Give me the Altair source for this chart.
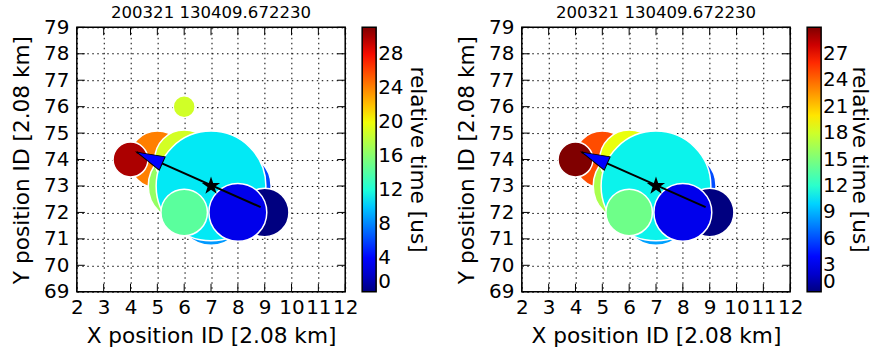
import math
import altair as alt
import pandas as pd

# ---------------- data ----------------
TITLE = "200321 130409.672230"
X_LABEL = "X position ID [2.08 km]"
Y_LABEL = "Y position ID [2.08 km]"
CBAR_LABEL = "relative time [us]"

X_TICKS = list(range(2, 13))
Y_TICKS = list(range(69, 80))

# left panel (drawing order = list order)
left_x = [7, 8, 5, 6, 6, 6, 4, 7, 9, 6, 8]
left_y = [72, 73, 74, 73, 74, 76, 74, 73, 72, 72, 72]
left_t = [8.6, 6.0, 24.2, 16.5, 18.9, 18.8, 30.0, 11.0, 0.0, 14.3, 2.9]
left_amp = [1089, 1110, 812, 1296, 870, 121, 306, 3025, 590, 543, 841]
left_tmax = 31.2
left_cticks = [0, 4, 8, 12, 16, 20, 24, 28]

# right panel
right_x = [7, 8, 5, 6, 6, 4, 7, 9, 6, 8]
right_y = [72, 73, 74, 73, 74, 74, 73, 72, 72, 72]
right_t = [8.5, 6.0, 24.9, 16.7, 19.0, 30.0, 10.9, 0.0, 14.5, 2.8]
right_amp = [1089, 1110, 812, 1296, 870, 306, 3025, 590, 543, 841]
right_tmax = 30.0
right_cticks = [0, 3, 6, 9, 12, 15, 18, 21, 24, 27]

# source location (star) and propagation arrow
star_x, star_y = 7.0, 73.0
arrow_from = (8.85, 72.2)
arrow_to = (4.23, 74.28)

# jet colormap anchors (fraction of range, colour)
JET_STOPS = [0, 0.11, 0.125, 0.34, 0.35, 0.375, 0.64, 0.65, 0.66, 0.89, 0.91, 1.0]
JET_COLORS = ["#000080", "#0000ff", "#0000ff", "#00dbff", "#00e6f7", "#15ffe2",
              "#efff08", "#f7f500", "#ffec00", "#ff1300", "#e80000", "#800000"]

# ---------------- layout / styles ----------------
W, H = 269, 265
GAP = 177          # from right edge of left plot to left edge of right plot
FONT = "DejaVu Sans"
TFS = 21.7         # axis / colorbar title font size
XDOM, YDOM = [2, 12], [69, 79]

# five-pointed star marker as an SVG path in the unit box
_pts = []
for k in range(10):
    r = 1.0 if k % 2 == 0 else 0.382
    a = math.radians(-90 + 36 * k)
    _pts.append(f"{r * math.cos(a):.4f},{r * math.sin(a):.4f}")
STAR_PATH = "M" + "L".join(_pts) + "Z"
HEAD_PATH = "M0,0L0.52,2L-0.52,2Z"


def xs(field):
    return alt.X(field, type="quantitative", title=X_LABEL,
                 scale=alt.Scale(domain=XDOM, nice=False, zero=False),
                 axis=alt.Axis(values=X_TICKS))


def ys(field):
    return alt.Y(field, type="quantitative", title=Y_LABEL,
                 scale=alt.Scale(domain=YDOM, nice=False, zero=False),
                 axis=alt.Axis(values=Y_TICKS))


def panel(px, py, pt, pamp, tmax, cticks):
    df = pd.DataFrame({"x": px, "y": py, "t": pt, "amp": pamp,
                       "idx": list(range(len(px)))})
    color = alt.Color("t:Q", title=None,
                      scale=alt.Scale(domain=[s * tmax for s in JET_STOPS],
                                      range=JET_COLORS, interpolate="rgb"),
                      legend=alt.Legend(values=cticks, direction="vertical",
                                        orient="right"))
    circles = alt.Chart(df).mark_circle(opacity=1, stroke="white", strokeWidth=1.5).encode(
        x=xs("x"), y=ys("y"), color=color,
        size=alt.Size("amp:Q", legend=None,
                      scale=alt.Scale(type="linear", domain=[0, 3025], range=[0, 4 * 3025])),
        order=alt.Order("idx:Q"),
    )
    adf = pd.DataFrame({"x": [arrow_from[0], arrow_to[0]],
                        "y": [arrow_from[1], arrow_to[1]], "o": [0, 1]})
    line = alt.Chart(adf).mark_line(color="black", strokeWidth=2).encode(
        x=xs("x"), y=ys("y"), order="o:Q")
    dx = (arrow_to[0] - arrow_from[0]) * W / (XDOM[1] - XDOM[0])
    dy = -(arrow_to[1] - arrow_from[1]) * H / (YDOM[1] - YDOM[0])
    ang = math.degrees(math.atan2(dx, -dy)) % 360
    hdf = pd.DataFrame({"x": [arrow_to[0]], "y": [arrow_to[1]]})
    head = alt.Chart(hdf).mark_point(
        shape=HEAD_PATH, filled=True, fill="#0000ff", stroke="black",
        strokeWidth=1, opacity=1, size=784, angle=ang).encode(x=xs("x"), y=ys("y"))
    sdf = pd.DataFrame({"x": [star_x], "y": [star_y]})
    star = alt.Chart(sdf).mark_point(shape=STAR_PATH, filled=True, color="black",
                                     opacity=1, size=370).encode(x=xs("x"), y=ys("y"))
    ydf = pd.DataFrame({"v": Y_TICKS})
    xdf = pd.DataFrame({"v": X_TICKS})
    tick = dict(color="black", thickness=1, size=8, opacity=1)
    yt_l = alt.Chart(ydf).mark_tick(orient="horizontal", **tick).encode(y=ys("v"), x=alt.value(4))
    yt_r = alt.Chart(ydf).mark_tick(orient="horizontal", **tick).encode(y=ys("v"), x=alt.value(W - 4))
    xt_b = alt.Chart(xdf).mark_tick(orient="vertical", **tick).encode(x=xs("v"), y=alt.value(H - 4))
    xt_t = alt.Chart(xdf).mark_tick(orient="vertical", **tick).encode(x=xs("v"), y=alt.value(4))
    return alt.layer(circles, line, head, star, yt_l, yt_r, xt_b, xt_t).properties(
        width=W, height=H,
        title=alt.TitleParams(TITLE, fontSize=16.6, font=FONT, fontWeight="normal",
                              offset=-4, anchor="middle", color="black"))


def cbar_title(w, xpos):
    return alt.Chart(pd.DataFrame({"a": [0]})).mark_text(
        angle=90, align="center", baseline="alphabetic", font=FONT, fontSize=TFS,
        color="black").encode(
        text=alt.value(CBAR_LABEL), x=alt.value(xpos), y=alt.value(H / 2)
    ).properties(width=w, height=H, view=alt.ViewConfig(strokeOpacity=0))


left = panel(left_x, left_y, left_t, left_amp, left_tmax, left_cticks)
right = panel(right_x, right_y, right_t, right_amp, right_tmax, right_cticks)

chart = alt.hconcat(left, cbar_title(GAP, 66), right, cbar_title(84, 63),
                    spacing=0, bounds="flush").resolve_scale(color="independent").properties(
    padding={"left": 10, "top": 3, "right": 0, "bottom": 0},
    background="white",
).configure_view(stroke="black", strokeWidth=1.5).configure_axis(
    labelFont=FONT, titleFont=FONT, labelFontSize=20, titleFontSize=TFS,
    titleFontWeight="normal", labelColor="black", titleColor="black",
    domain=False, ticks=False, labelPadding=8, titlePadding=10,
    labelOverlap=False, labelFlush=False,
    grid=True, gridColor="black", gridDash=[1.5, 3.5], gridWidth=1, gridOpacity=1,
).configure_axisX(labelPadding=6, titlePadding=8).configure_legend(
    gradientLength=H, gradientThickness=14, gradientStrokeColor="black",
    gradientStrokeWidth=1.5, labelFont=FONT, labelFontSize=20, labelColor="black",
    labelOffset=7, offset=17, padding=0, labelOverlap=False,
)

chart.save("out.html", embed_options={"renderer": "svg", "actions": False})
